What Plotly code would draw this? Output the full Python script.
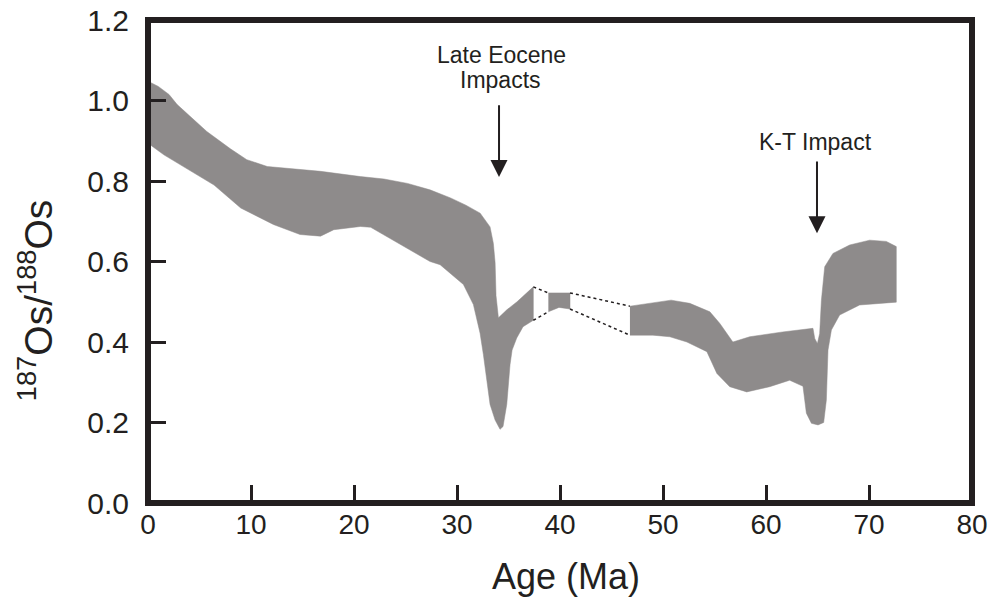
import plotly.graph_objects as go

# ---------------- data ----------------
x_ticks = [0, 10, 20, 30, 40, 50, 60, 70, 80]
y_ticks = [0.0, 0.2, 0.4, 0.6, 0.8, 1.0, 1.2]

# Segment 1: 0 - 37.4 Ma (with Late Eocene dip)
seg1_upper_age = [0, 1.0, 2.04, 2.83, 4.03, 5.71, 8.0, 9.59, 11.58, 13.96, 16.75, 20.62,
                  22.91, 25.2, 27.38, 29.37, 30.86, 32.25, 33.21, 33.53, 33.70, 33.79,
                  34.02, 34.84, 35.83, 37.41]
seg1_upper_val = [1.048, 1.035, 1.015, 0.99, 0.962, 0.923, 0.88, 0.853, 0.836, 0.830, 0.824, 0.811,
                  0.805, 0.794, 0.778, 0.758, 0.740, 0.720, 0.686, 0.645, 0.597, 0.515,
                  0.46, 0.48, 0.50, 0.537]
seg1_lower_age = [0, 1.54, 3.43, 6.41, 9.0, 12.17, 14.76, 16.75, 18.04, 20.62, 21.62, 22.91,
                  24.5, 27.38, 28.36, 30.62, 31.59, 32.24, 32.56, 32.92, 33.21, 33.70,
                  34.18, 34.47, 34.83, 35.15, 35.35, 35.8, 36.41, 37.41]
seg1_lower_val = [0.894, 0.865, 0.836, 0.79, 0.733, 0.692, 0.667, 0.663, 0.679, 0.687, 0.685, 0.665,
                  0.643, 0.600, 0.592, 0.543, 0.493, 0.422, 0.369, 0.305, 0.245, 0.206,
                  0.183, 0.19, 0.245, 0.344, 0.38, 0.41, 0.438, 0.454]

# Segment 2: small block around 39-41 Ma
seg2_upper_age = [38.87, 40.97]
seg2_upper_val = [0.522, 0.522]
seg2_lower_age = [38.87, 39.9, 40.97]
seg2_lower_val = [0.475, 0.486, 0.482]

# Segment 3: 46.8 - 72.7 Ma (with K-T dip)
seg3_upper_age = [46.79, 50.79, 52.6, 54.55, 55.52, 56.78, 58.42, 61.62, 64.56, 64.73, 64.99,
                  65.21, 65.38, 65.70, 66.50, 68.12, 70.06, 71.68, 72.65]
seg3_upper_val = [0.489, 0.504, 0.496, 0.475, 0.446, 0.40, 0.413, 0.425, 0.434, 0.409, 0.396,
                  0.421, 0.504, 0.587, 0.62, 0.641, 0.653, 0.650, 0.637]
seg3_lower_age = [46.79, 49.02, 50.67, 52.32, 54.26, 55.23, 56.48, 58.13, 60.36, 62.3, 63.59,
                  63.92, 64.41, 65.05, 65.6, 65.86, 66.02, 66.35, 67.15, 69.09, 72.65]
seg3_lower_val = [0.417, 0.417, 0.413, 0.40, 0.376, 0.322, 0.289, 0.276, 0.289, 0.305, 0.29,
                  0.223, 0.198, 0.194, 0.20, 0.256, 0.38, 0.43, 0.467, 0.492, 0.499]

# Annotation arrows: (age, tail value, tip value)
eocene_arrow = (34.08, 0.992, 0.810)
kt_arrow = (64.95, 0.852, 0.670)

x_title = "Age (Ma)"
y_title = "<sup>187</sup>Os/<sup>188</sup>Os"

# ---------------- styles ----------------
FONT = "Liberation Sans, Arial, Helvetica, sans-serif"
INK = "#231f20"
FILL = "#8e8b8b"

fig = go.Figure()


def band(up_a, up_v, lo_a, lo_v):
    xs = list(up_a) + list(reversed(lo_a))
    ys = list(up_v) + list(reversed(lo_v))
    fig.add_trace(go.Scatter(x=xs, y=ys, mode="lines", fill="toself",
                             fillcolor=FILL, line=dict(color=FILL, width=0.5),
                             hoverinfo="skip", showlegend=False))


band(seg1_upper_age, seg1_upper_val, seg1_lower_age, seg1_lower_val)
band(seg2_upper_age, seg2_upper_val, seg2_lower_age, seg2_lower_val)
band(seg3_upper_age, seg3_upper_val, seg3_lower_age, seg3_lower_val)

# dotted connectors across the gaps
connectors = [
    ((seg1_upper_age[-1], seg1_upper_val[-1]), (seg2_upper_age[0], seg2_upper_val[0])),
    ((seg1_lower_age[-1], seg1_lower_val[-1]), (seg2_lower_age[0], seg2_lower_val[0])),
    ((seg2_upper_age[-1], seg2_upper_val[-1]), (seg3_upper_age[0], seg3_upper_val[0])),
    ((seg2_lower_age[-1], seg2_lower_val[-1]), (seg3_lower_age[0], seg3_lower_val[0])),
]
for (a0, v0), (a1, v1) in connectors:
    fig.add_trace(go.Scatter(x=[a0, a1], y=[v0, v1], mode="lines",
                             line=dict(color=INK, width=1.5, dash="dot"),
                             hoverinfo="skip", showlegend=False))

# arrows
for (age, tail, tip) in [eocene_arrow, kt_arrow]:
    fig.add_annotation(x=age, y=tip, ax=age, ay=tail, xref="x", yref="y",
                       axref="x", ayref="y", text="", showarrow=True,
                       arrowhead=2, arrowsize=1.7, arrowwidth=2, arrowcolor=INK)

# labels
fig.add_annotation(x=34.3, y=1.112, xref="x", yref="y", text="Late Eocene",
                   showarrow=False, font=dict(family=FONT, size=23, color=INK),
                   xanchor="center", yanchor="middle")
fig.add_annotation(x=34.2, y=1.050, xref="x", yref="y", text="Impacts",
                   showarrow=False, font=dict(family=FONT, size=23, color=INK),
                   xanchor="center", yanchor="middle")
fig.add_annotation(x=64.8, y=0.896, xref="x", yref="y", text="K-T Impact",
                   showarrow=False, font=dict(family=FONT, size=23, color=INK),
                   xanchor="center", yanchor="middle")

# axis titles
fig.add_annotation(x=0.507, y=-0.153, xref="paper", yref="paper", text=x_title,
                   showarrow=False, font=dict(family=FONT, size=36, color=INK),
                   xanchor="center", yanchor="middle")
fig.add_annotation(x=-0.137, y=0.42, xref="paper", yref="paper", text=y_title,
                   showarrow=False, textangle=-90,
                   font=dict(family=FONT, size=39, color=INK),
                   xanchor="center", yanchor="middle")

# frame
fig.add_shape(type="rect", xref="paper", yref="paper", x0=0, y0=0, x1=1, y1=1,
              line=dict(color=INK, width=6), layer="above")

fig.update_layout(
    width=990, height=613,
    margin=dict(l=147.5, r=17.5, t=19.7, b=110, autoexpand=False),
    paper_bgcolor="white", plot_bgcolor="white",
    font=dict(family=FONT, color=INK),
    showlegend=False,
    hovermode=False,
    xaxis=dict(range=[0, 80], tickvals=x_ticks, ticktext=[str(v) for v in x_ticks],
               ticks="inside", ticklen=18, tickwidth=3, tickcolor=INK,
               showgrid=False, zeroline=False, showline=False, automargin=False,
               tickfont=dict(family=FONT, size=28, color=INK),
               ticklabelstandoff=2),
    yaxis=dict(range=[0, 1.2], tickvals=y_ticks, ticktext=[f"{v:.1f}" for v in y_ticks],
               ticks="inside", ticklen=18, tickwidth=3, tickcolor=INK,
               showgrid=False, zeroline=False, showline=False, automargin=False,
               tickfont=dict(family=FONT, size=30, color=INK),
               ticklabelstandoff=18),
)

fig.write_html("out.html",
               config={"displayModeBar": False, "staticPlot": True},
               post_script="document.body.style.margin='0';document.body.style.padding='0';")
